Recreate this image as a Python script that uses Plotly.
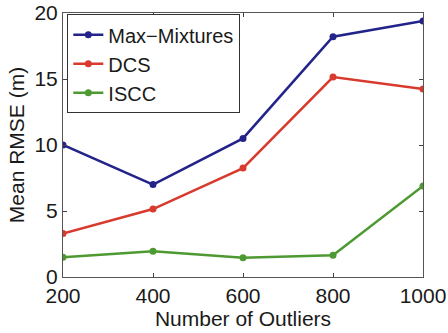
import plotly.graph_objects as go

outliers = [200, 400, 600, 800, 1000]
max_mixtures = [10.0, 7.0, 10.5, 18.2, 19.4]
dcs = [3.3, 5.15, 8.25, 15.15, 14.25]
iscc = [1.5, 1.95, 1.45, 1.65, 6.9]

series = [
    ("Max\u2212Mixtures", max_mixtures, "#23238a"),
    ("DCS", dcs, "#d83a2e"),
    ("ISCC", iscc, "#4e9a32"),
]

fig = go.Figure()
for name, vals, col in series:
    fig.add_trace(go.Scatter(x=outliers, y=vals, name=name, mode="lines+markers",
                             line=dict(color=col, width=2.5),
                             marker=dict(color=col, size=7)))

font = dict(family="Liberation Sans, Arial, sans-serif", size=21, color="#1a1a1a")
fig.update_layout(
    width=448, height=333,
    margin=dict(l=63, r=25, t=13, b=56),
    paper_bgcolor="white", plot_bgcolor="white",
    font=font,
    showlegend=True,
    legend=dict(x=0.012, y=0.995, xanchor="left", yanchor="top",
                bordercolor="#333333", borderwidth=1, bgcolor="white",
                font=dict(size=20), tracegroupgap=0, itemwidth=30),
    xaxis=dict(range=[200, 1000], tickvals=[200, 400, 600, 800, 1000],
               ticks="inside", ticklen=4, mirror="ticks", showline=True, automargin=False,
               linecolor="#555555", linewidth=1, showgrid=False, zeroline=False,
               title=dict(text="Number of Outliers", standoff=0, font=dict(size=21))),
    yaxis=dict(range=[0, 20], tickvals=[0, 5, 10, 15, 20],
               ticks="inside", ticklen=4, mirror="ticks", showline=True, automargin=False,
               linecolor="#555555", linewidth=1, showgrid=False, zeroline=False,
               title=dict(text="Mean RMSE (m)", standoff=4, font=dict(size=21))),
)

fig.write_html("out.html")
